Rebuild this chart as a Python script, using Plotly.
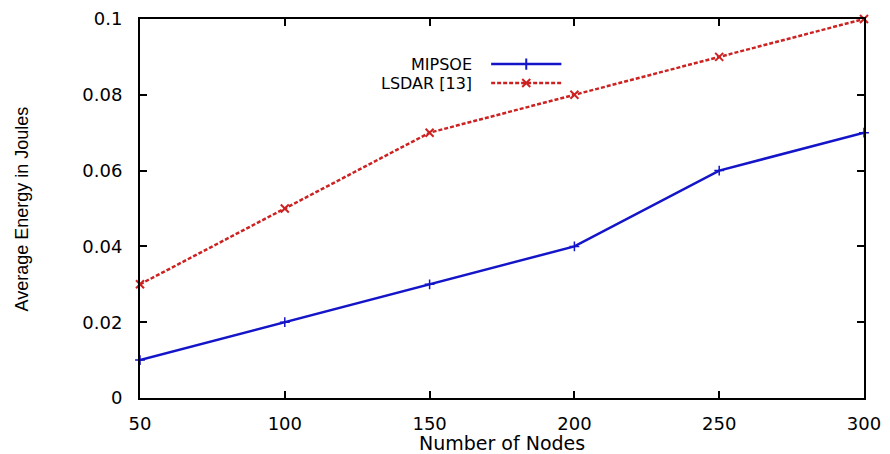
import plotly.graph_objects as go

nodes = [50, 100, 150, 200, 250, 300]
mipsoe = [0.01, 0.02, 0.03, 0.04, 0.06, 0.07]
lsdar = [0.03, 0.05, 0.07, 0.08, 0.09, 0.10]
y_ticks = [0, 0.02, 0.04, 0.06, 0.08, 0.1]
y_labels = ["0", "0.02", "0.04", "0.06", "0.08", "0.1"]
x_ticks = [50, 100, 150, 200, 250, 300]

blue = "#1414c8"
red = "#cc2222"
font = "DejaVu Sans, sans-serif"
ytitle_font = "Liberation Sans, Arial, sans-serif"

fig = go.Figure()
fig.add_trace(go.Scatter(x=nodes, y=mipsoe, mode="lines+markers", name="MIPSOE",
                         line=dict(color=blue, width=2.5),
                         marker=dict(symbol="cross-thin", size=7, line=dict(color=blue, width=1.5)),
                         showlegend=False, cliponaxis=False))
fig.add_trace(go.Scatter(x=nodes, y=lsdar, mode="lines+markers", name="LSDAR [13]",
                         line=dict(color=red, width=2.5, dash="4px,2px"),
                         marker=dict(symbol="x-thin", size=8, line=dict(color=red, width=2)),
                         showlegend=False, cliponaxis=False))

# gnuplot-style legend (text left, sample right)
legend_items = [("MIPSOE", blue, "solid", "cross-thin", 0.881),
                ("LSDAR [13]", red, "4px,2px", "x-thin", 0.831)]
for name, color, dash, sym, yp in legend_items:
    fig.add_annotation(x=0.461, y=yp, xref="paper", yref="paper", text=name,
                       showarrow=False, xanchor="right", yanchor="middle",
                       font=dict(family=font, size=16, color="black"))
    fig.add_shape(type="line", xref="paper", yref="paper", x0=0.485, x1=0.582, y0=yp, y1=yp,
                  line=dict(color=color, width=2.5, dash=dash))
    fig.add_trace(go.Scatter(x=[0.5335], y=[yp], xaxis="x2", yaxis="y2", mode="markers",
                             marker=dict(symbol=sym, size=8, line=dict(color=color, width=2)),
                             showlegend=False, hoverinfo="skip"))

axis_common = dict(showgrid=False, zeroline=False, showline=True, linecolor="black",
                   linewidth=2, ticks="inside", ticklen=7, tickwidth=1.5, tickcolor="black",
                   mirror="ticks", automargin=False,
                   tickfont=dict(family=font, size=18, color="black"))

fig.add_annotation(x=-0.163, y=0.5, xref="paper", yref="paper", text="Average Energy in Joules",
                   textangle=-90, showarrow=False, xanchor="center", yanchor="middle",
                   font=dict(family=ytitle_font, size=18, color="black"))
fig.add_annotation(x=0.5, y=-0.118, xref="paper", yref="paper", text="Number of Nodes",
                   showarrow=False, xanchor="center", yanchor="middle",
                   font=dict(family=font, size=19, color="black"))

fig.update_layout(
    width=890, height=454,
    margin=dict(l=140, r=26, t=19, b=56),
    paper_bgcolor="white", plot_bgcolor="white",
    xaxis=dict(range=[50, 300], tickvals=x_ticks, ticklabelstandoff=8, **axis_common),
    yaxis=dict(range=[0, 0.1], tickvals=y_ticks, ticktext=y_labels, ticklabelstandoff=12,
               **axis_common),
    xaxis2=dict(range=[0, 1], domain=[0, 1], overlaying="x", visible=False, anchor="y2"),
    yaxis2=dict(range=[0, 1], domain=[0, 1], overlaying="y", visible=False, anchor="x2"),
)

fig.write_html("out.html", config={"displayModeBar": False},
               post_script="document.body.style.margin='0';document.body.style.overflow='hidden';")
